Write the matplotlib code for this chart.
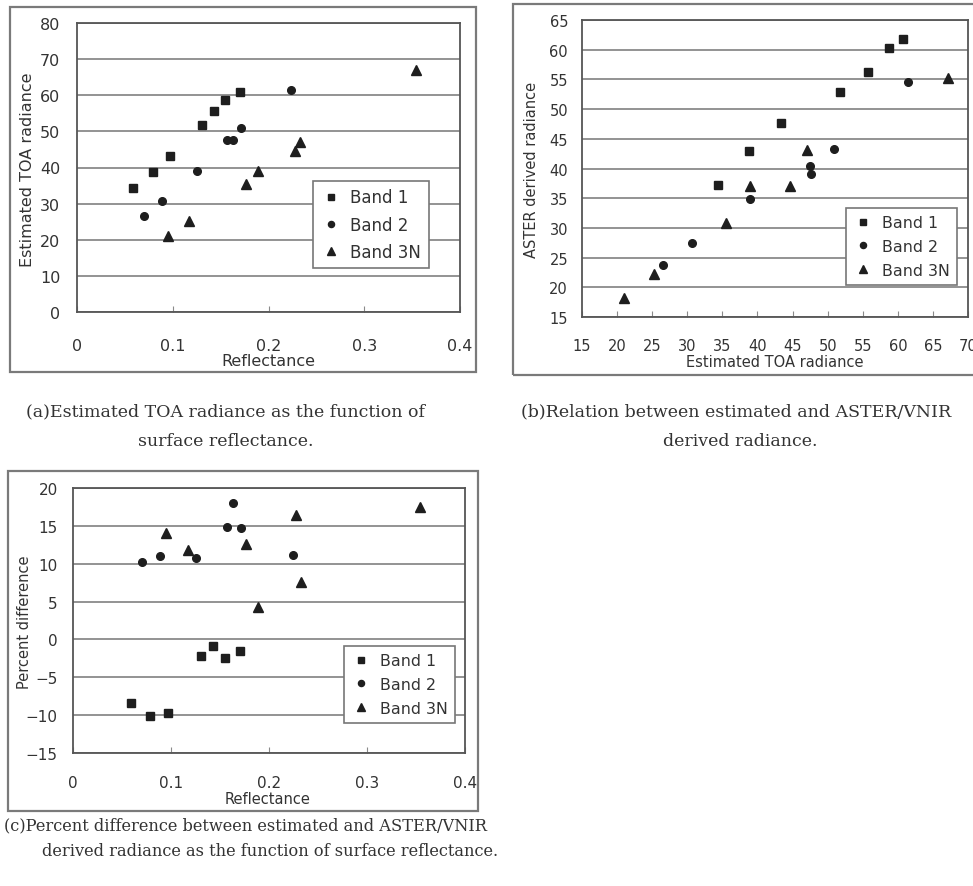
import matplotlib
matplotlib.use('Agg')
import matplotlib.pyplot as plt
from matplotlib.patches import Rectangle

# reflectance of each band
refl_b1 = [0.059, 0.079, 0.097, 0.131, 0.143, 0.155, 0.170]
refl_b2 = [0.070, 0.089, 0.125, 0.157, 0.163, 0.171, 0.224]
refl_b3 = [0.095, 0.117, 0.177, 0.189, 0.228, 0.233, 0.354]

# estimated TOA radiance
est_b1 = [34.4, 38.8, 43.3, 51.7, 55.7, 58.8, 60.8]
est_b2 = [26.5, 30.7, 39.0, 47.5, 47.6, 50.9, 61.4]
est_b3 = [21.0, 25.2, 35.5, 38.9, 44.6, 47.0, 67.1]

# ASTER derived radiance
aster_b1 = [37.3, 43.0, 47.6, 52.9, 56.3, 60.3, 61.8]
aster_b2 = [23.8, 27.4, 34.9, 40.5, 39.1, 43.3, 54.6]
aster_b3 = [18.2, 22.3, 30.9, 37.0, 37.0, 43.1, 55.2]

# percent difference
pct_b1 = [-8.4, -10.1, -9.7, -2.2, -0.9, -2.5, -1.5]
pct_b2 = [10.2, 11.0, 10.7, 14.9, 18.0, 14.7, 11.1]
pct_b3 = [14.1, 11.8, 12.6, 4.3, 16.5, 7.6, 17.5]

band_names = ['Band 1', 'Band 2', 'Band 3N']
captions = {
    'a': ['(a)Estimated TOA radiance as the function of', 'surface reflectance.'],
    'b': ['(b)Relation between estimated and ASTER/VNIR', 'derived radiance.'],
    'c': ['(c)Percent difference between estimated and ASTER/VNIR',
          'derived radiance as the function of surface reflectance.'],
}

W, H = 973, 887
fig = plt.figure(figsize=(W / 100, H / 100), dpi=100)
plt.rcParams['font.family'] = 'DejaVu Sans'

ink = '#1e1e1e'
grey = '#8a8a8a'


def rect(l, t, r, b):
    return [l / W, 1 - b / H, (r - l) / W, (b - t) / H]


def pt(x, y):
    return (x / W, 1 - y / H)


def outer_box(l, t, r, b):
    fig.add_artist(Rectangle(pt(l, b), (r - l) / W, (b - t) / H, transform=fig.transFigure,
                             fill=False, edgecolor='#7a7a7a', lw=1.6))


def make_panel(box, xlim, xticks, xlabels, ylim, yticks, fs, xpad, ypad):
    ax = fig.add_axes(rect(*box))
    ax.set_xlim(*xlim)
    ax.set_ylim(*ylim)
    ax.set_xticks(xticks)
    ax.set_xticklabels(xlabels)
    ax.set_yticks(yticks)
    ax.yaxis.grid(True, color=grey, lw=1.3)
    ax.set_axisbelow(True)
    for s in ax.spines.values():
        s.set_color('#555555')
        s.set_linewidth(1.3)
    ax.tick_params(axis='x', direction='in', length=4, color=grey, pad=xpad, labelsize=fs, labelcolor='#333333')
    ax.tick_params(axis='y', length=0, pad=ypad, labelsize=fs, labelcolor='#333333')
    return ax


def scatter3(ax, xs, ys):
    ax.plot(xs[0], ys[0], 's', ms=5.5, color=ink, ls='none', label=band_names[0])
    ax.plot(xs[1], ys[1], 'o', ms=5.5, color=ink, ls='none', label=band_names[1])
    ax.plot(xs[2], ys[2], '^', ms=7, color=ink, ls='none', label=band_names[2])


def legend_at(ax, x, y, fs):
    leg = ax.legend(loc='upper left', bbox_to_anchor=pt(x, y), bbox_transform=fig.transFigure,
                    borderaxespad=0, fancybox=False, framealpha=1, edgecolor='#777777',
                    fontsize=fs, labelspacing=0.55, handletextpad=0.6, handlelength=1.2,
                    borderpad=0.45, markerscale=0.8)
    leg.get_frame().set_linewidth(1.2)
    for t in leg.get_texts():
        t.set_color('#333333')


def labels(ax, xl, yl, fs, xpos, ypos):
    # xpos is the top centre of the x label, ypos the right centre of the y label
    ax.set_xlabel(xl, fontsize=fs, color='#333333')
    ax.set_ylabel(yl, fontsize=fs, color='#333333')
    ax.xaxis.set_label_coords(*pt(*xpos), transform=fig.transFigure)
    ax.yaxis.set_label_coords(*pt(*ypos), transform=fig.transFigure)


refl_ticks = [0, 0.1, 0.2, 0.3, 0.4]
refl_labels = ['0', '0.1', '0.2', '0.3', '0.4']

# (a)
outer_box(10, 8, 476, 373)
ax1 = make_panel((77, 24, 460, 313), (0, 0.4), refl_ticks, refl_labels,
                 (0, 80), range(0, 81, 10), 11.5, 19, 12)
scatter3(ax1, [refl_b1, refl_b2, refl_b3], [est_b1, est_b2, est_b3])
legend_at(ax1, 313, 182, 12)
labels(ax1, 'Reflectance', 'Estimated TOA radiance', 11.5, (268, 354), (35, 170))

# (b)
outer_box(513, 5, 1000, 376)
ax2 = make_panel((582, 21, 968, 318), (15, 70), range(15, 71, 5), [str(v) for v in range(15, 71, 5)],
                 (15, 65), range(15, 66, 5), 10.5, 15, 10)
scatter3(ax2, [est_b1, est_b2, est_b3], [aster_b1, aster_b2, aster_b3])
legend_at(ax2, 846, 209, 11.4)
labels(ax2, 'Estimated TOA radiance', 'ASTER derived radiance', 10.5, (775, 355), (539, 170))

# (c)
outer_box(8, 472, 478, 812)
ax3 = make_panel((73, 489, 465, 754), (0, 0.4), refl_ticks, refl_labels,
                 (-15, 20), range(-15, 21, 5), 11, 16, 11)
scatter3(ax3, [refl_b1, refl_b2, refl_b3], [pct_b1, pct_b2, pct_b3])
legend_at(ax3, 344, 647, 11.4)
labels(ax3, 'Reflectance', 'Percent difference', 10.5, (268, 792), (32, 622))

# captions
cap = dict(family='DejaVu Serif', color='#333333', va='center')
fig.text(*pt(226, 412), captions['a'][0], ha='center', fontsize=12.5, **cap)
fig.text(*pt(226, 442), captions['a'][1], ha='center', fontsize=12.5, **cap)
fig.text(*pt(736, 412), captions['b'][0], ha='center', fontsize=12.5, **cap)
fig.text(*pt(740, 442), captions['b'][1], ha='center', fontsize=12.5, **cap)
fig.text(*pt(4, 826), captions['c'][0], ha='left', fontsize=11.7, **cap)
fig.text(*pt(42, 852), captions['c'][1], ha='left', fontsize=11.7, **cap)

fig.savefig('out.png', dpi=100)
